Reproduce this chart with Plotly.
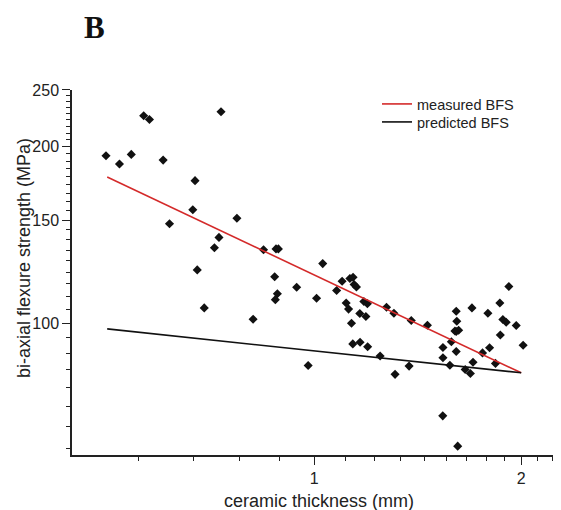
import plotly.graph_objects as go

# ---- data ----
thickness_mm = [0.498, 0.521, 0.542, 0.565, 0.576, 0.603, 0.732, 0.671, 0.666, 0.616,
                0.772, 0.727, 0.716, 0.844, 0.880, 0.887, 0.676, 0.876, 0.884, 0.878,
                0.943, 1.008, 0.692, 0.815,
                1.029, 0.980, 1.078, 1.098, 1.127, 1.139, 1.143, 1.152, 1.113, 1.122,
                1.165, 1.133, 1.181, 1.195, 1.189, 1.138, 1.166, 1.196, 1.247, 1.274,
                1.306, 1.384, 1.311, 1.374, 1.461, 1.539, 1.539, 1.583, 1.575, 1.609,
                1.612, 1.609, 1.622, 1.602, 1.609, 1.696, 1.702, 1.658, 1.687, 1.789,
                1.799, 1.757, 1.835, 1.862, 1.865, 1.881, 1.902, 1.919, 1.967, 2.013,
                1.538, 1.617]
bfs_mpa = [193.1, 186.9, 194.1, 225.9, 222.6, 189.8, 229.5, 175.1, 156.2, 147.8,
           151.0, 140.1, 134.5, 133.5, 133.9, 133.9, 123.3, 120.0, 112.3, 109.7,
           115.2, 110.3, 106.2, 101.6,
           126.4, 84.7, 113.7, 117.9, 119.2, 119.8, 116.4, 115.3, 108.3, 105.7,
           103.9, 100.0, 108.9, 108.0, 102.7, 92.2, 92.8, 91.2, 87.9, 106.5,
           104.0, 101.1, 81.8, 84.5, 99.2, 90.9, 87.3, 93.0, 84.8, 104.8,
           100.8, 96.8, 97.3, 97.0, 89.5, 106.2, 85.8, 83.4, 82.1, 104.0,
           90.8, 89.0, 85.4, 108.3, 95.5, 101.5, 100.4, 115.5, 99.1, 91.7,
           69.5, 61.7]

fit_thickness = [0.5, 2.0]
measured_bfs = [177.6, 82.3]
predicted_bfs = [97.8, 82.3]

x_major = [1, 2]
y_major = [100, 150, 200, 250]
x_minor = [k / 9 for k in range(5, 21) if k % 9 != 0]
y_minor = [50 * k / 9 for k in range(11, 45) if k % 9 != 0]

FONT = "Liberation Sans, Arial, sans-serif"

# the page body adds an 8px margin, so the figure is drawn 8px right/down
OFF = 8
W, H = 561 - OFF, 510 - OFF
L, R, T, B = 72 - OFF, 2, 90 - OFF, 55
pw, ph = W - L - R, H - T - B


def px_to_paper(px, py):
    """screen pixel (reference picture) -> paper coords"""
    fx, fy = px - OFF, py - OFF
    return (fx - L) / pw, (H - B - fy) / ph


fig = go.Figure()
fig.add_trace(go.Scatter(x=thickness_mm, y=bfs_mpa, mode="markers",
                         marker=dict(symbol="diamond", size=7, color="#111111"),
                         showlegend=False))
fig.add_trace(go.Scatter(x=fit_thickness, y=measured_bfs, mode="lines",
                         line=dict(color="#d42a2a", width=1.6), name="measured BFS",
                         legend="legend"))
fig.add_trace(go.Scatter(x=fit_thickness, y=predicted_bfs, mode="lines",
                         line=dict(color="#111111", width=1.6), name="predicted BFS",
                         legend="legend2"))

axis_common = dict(showline=True, linecolor="#222222", linewidth=1.5, mirror=False,
                   ticks="outside", ticklen=8, tickwidth=1.3, tickcolor="#222222",
                   showgrid=False, zeroline=False,
                   tickfont=dict(family=FONT, size=16, color="#222222"))

fig.update_xaxes(type="log", range=[-0.3522, 0.356], tickmode="array",
                 tickvals=x_major, ticktext=[str(v) for v in x_major],
                 minor=dict(tickmode="array", tickvals=x_minor, ticks="outside",
                            ticklen=4, tickwidth=1.2, tickcolor="#222222", showgrid=False),
                 **axis_common)
fig.update_yaxes(type="log", range=[1.7752, 2.3979], tickmode="array",
                 tickvals=y_major, ticktext=[str(v) for v in y_major],
                 minor=dict(tickmode="array", tickvals=y_minor, ticks="outside",
                            ticklen=4, tickwidth=1.2, tickcolor="#222222", showgrid=False),
                 **axis_common)

bx, by = px_to_paper(94.5, 27.5)
tx, ty = px_to_paper(24, 258)
cx, cy = px_to_paper(319, 501)
lx, ly1 = px_to_paper(377, 88)
_, ly2 = px_to_paper(377, 106)

legend_common = dict(xanchor="left", yanchor="top", bgcolor="rgba(0,0,0,0)",
                     font=dict(family=FONT, size=14.5))

fig.update_layout(
    width=W, height=H,
    margin=dict(l=L, r=R, t=T, b=B),
    paper_bgcolor="white", plot_bgcolor="white",
    font=dict(family=FONT, color="#222222"),
    legend=dict(x=lx, y=ly1, **legend_common),
    legend2=dict(x=lx, y=ly2, **legend_common),
    annotations=[
        dict(text="<b>B</b>", x=bx, y=by, xref="paper", yref="paper",
             xanchor="center", yanchor="middle",
             font=dict(family="Liberation Serif, Times New Roman, serif", size=31, color="#111111"),
             showarrow=False),
        dict(text="bi-axial flexure strength (MPa)", textangle=-90,
             xref="paper", yref="paper", x=tx, y=ty, xanchor="center", yanchor="middle",
             showarrow=False, font=dict(family=FONT, size=18, color="#222222")),
        dict(text="ceramic thickness (mm)", xref="paper", yref="paper",
             x=cx, y=cy, xanchor="center", yanchor="middle", showarrow=False,
             font=dict(family=FONT, size=18, color="#222222")),
    ],
)

fig.write_html("out.html")
